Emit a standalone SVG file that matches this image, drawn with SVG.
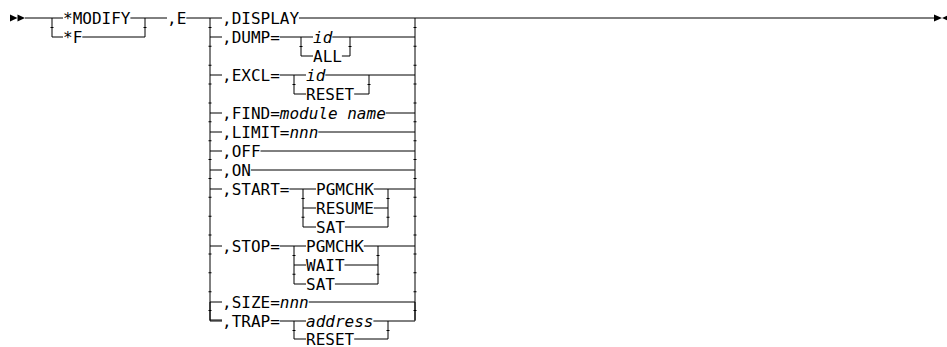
<svg xmlns="http://www.w3.org/2000/svg" width="947" height="347" viewBox="0 0 947 347">
<style>
.ln{fill:none;stroke:#000;stroke-width:1}
.tk{fill:none;stroke:#000;stroke-width:3;stroke-dasharray:1 17.875;stroke-dashoffset:9.94}
.ar{fill:#000;stroke:none}
text{font-family:"DejaVu Sans Mono","Liberation Mono",monospace;font-size:16px;fill:#000}
.it{font-style:italic}
</style>
<rect width="947" height="347" fill="#fff"/>
<g id="connectors">
<path class="ln" d="M25,18H63M130.4,18H167M186.3,18H222M299,18H934"/>
<path class="ln" d="M52,18V37H63M82.3,37H145V18"/>
<path class="ln" d="M210,18V320H222M415,18V320"/>
<path class="ln" d="M210,37H222M279.8,37H313M332.3,37H415M301,37V56H313M341.9,56H350V37"/>
<path class="ln" d="M210,75H222M279.8,75H306M325.3,75H415M294,75V94H306M354.2,94H369V75"/>
<path class="ln" d="M210,113H222M385.7,113H415"/>
<path class="ln" d="M210,132H222M318.3,132H415"/>
<path class="ln" d="M210,151H222M260.5,151H415"/>
<path class="ln" d="M210,170H222M250.9,170H415"/>
<path class="ln" d="M210,189H222M289.4,189H316M373.8,189H415M303,189V227H316M303,208H316M373.8,208H388M344.9,227H388V189"/>
<path class="ln" d="M210,246H222M279.8,246H306M363.8,246H415M294,246V284H306M294,265H306M344.5,265H378M334.9,284H378V246"/>
<path class="ln" d="M210,302H222M308.7,302H415"/>
<path class="ln" d="M210,302V321H222M415,302V321M279.8,321H306M373.4,321H415M294,321V339H306M354.2,339H388V321"/>
<path class="tk" d="M52,18V37M145,18V37M210,18V321M415,18V321M301,37V56M350,37V56M294,75V94M369,75V94M303,189V227M388,189V227M294,246V284M378,246V284M294,321V339M388,321V339"/>
</g>
<g id="start"><polygon class="ar" points="10,14.5 17.5,18 10,21.5"/><polygon class="ar" points="17.5,14.5 25,18 17.5,21.5"/></g>
<g id="end"><polygon class="ar" points="934,14.5 942,18 934,21.5"/><polygon class="ar" points="950,14.5 942,18 950,21.5"/></g>
<g id="modify"><text x="63" y="24">*MODIFY</text></g>
<g id="f"><text x="63" y="43">*F</text></g>
<g id="e"><text x="167" y="24">,E</text></g>
<g id="display"><text x="222" y="24">,DISPLAY</text></g>
<g id="dump"><text x="222" y="43">,DUMP=</text><text class="it" x="313" y="43">id</text><text x="313" y="62">ALL</text></g>
<g id="excl"><text x="222" y="81">,EXCL=</text><text class="it" x="306" y="81">id</text><text x="306" y="100">RESET</text></g>
<g id="find"><text x="222" y="119">,FIND=<tspan class="it">module name</tspan></text></g>
<g id="limit"><text x="222" y="138">,LIMIT=<tspan class="it">nnn</tspan></text></g>
<g id="off"><text x="222" y="157">,OFF</text></g>
<g id="on"><text x="222" y="176">,ON</text></g>
<g id="start-opt"><text x="222" y="195">,START=</text><text x="316" y="195">PGMCHK</text><text x="316" y="214">RESUME</text><text x="316" y="233">SAT</text></g>
<g id="stop"><text x="222" y="252">,STOP=</text><text x="306" y="252">PGMCHK</text><text x="306" y="271">WAIT</text><text x="306" y="290">SAT</text></g>
<g id="size"><text x="222" y="308">,SIZE=<tspan class="it">nnn</tspan></text></g>
<g id="trap"><text x="222" y="327">,TRAP=</text><text class="it" x="306" y="327">address</text><text x="306" y="344.5">RESET</text></g>
</svg>
